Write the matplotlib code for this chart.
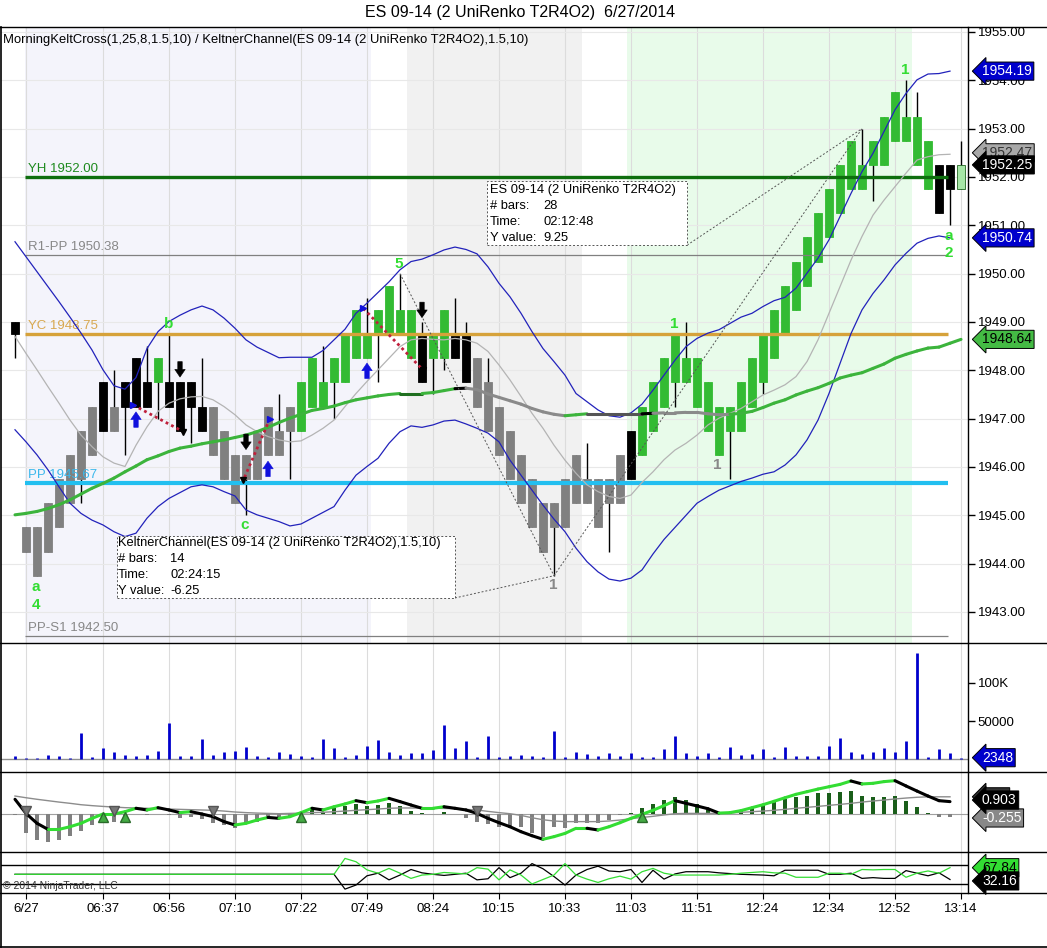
import matplotlib
matplotlib.use("Agg")
import matplotlib.pyplot as plt
import matplotlib.transforms as mtransforms
from matplotlib.collections import LineCollection
from matplotlib.patches import Rectangle
from matplotlib.lines import Line2D
from matplotlib.ticker import FixedLocator, FuncFormatter

plt.rcParams['font.family'] = ['Liberation Sans', 'DejaVu Sans']

# ---------------- data ----------------
tick_idx = [1, 8, 14, 20, 26, 32, 38, 44, 50, 56, 62, 68, 74, 80, 86]
tick_lab = ['6/27', '06:37', '06:56', '07:10', '07:22', '07:49', '08:24', '10:15',
            '10:33', '11:03', '11:51', '12:24', '12:34', '12:52', '13:14']

body_lo = [1948.75,1944.25,1943.75,1944.25,1944.75,1945.25,1945.75,1946.25,1946.75,1946.75,
           1947.25,1947.25,1947.25,1947.75,1947.25,1946.75,1947.25,1946.75,1946.25,1945.75,
           1945.25,1945.75,1945.75,1946.25,1946.25,1946.75,1946.75,1947.25,1947.25,1947.75,
           1947.75,1948.25,1948.25,1948.75,1948.75,1948.75,1948.25,1947.75,1948.25,1948.25,
           1948.25,1947.75,1947.25,1946.75,1946.25,1945.75,1945.25,1944.75,1944.25,1944.75,
           1944.75,1945.25,1945.25,1944.75,1945.25,1945.25,1945.75,1946.25,1946.75,1947.25,
           1947.75,1947.75,1947.25,1946.75,1946.25,1946.75,1946.75,1947.25,1947.75,1948.25,
           1948.75,1949.25,1949.75,1950.25,1950.75,1951.25,1951.75,1951.75,1952.25,1952.25,
           1952.75,1952.75,1952.25,1951.75,1951.25,1951.75,1951.75]
body_hi = [1949.00,1944.75,1944.75,1945.25,1945.75,1946.25,1946.75,1947.25,1947.75,1947.25,
           1947.75,1948.25,1947.75,1948.25,1947.75,1947.75,1947.75,1947.25,1947.25,1946.75,
           1946.25,1946.25,1946.75,1947.25,1946.75,1947.25,1947.75,1948.25,1947.75,1948.25,
           1948.75,1949.25,1948.75,1949.25,1949.75,1949.25,1949.25,1948.75,1948.75,1949.25,
           1948.75,1948.75,1948.25,1947.75,1947.25,1946.75,1946.25,1945.75,1945.25,1945.25,
           1945.75,1946.25,1945.75,1945.75,1945.75,1946.25,1946.75,1947.25,1947.75,1948.25,
           1948.75,1948.25,1948.25,1947.75,1947.25,1947.25,1947.75,1948.25,1948.75,1949.25,
           1949.75,1950.25,1950.75,1951.25,1951.75,1952.25,1952.75,1952.25,1952.75,1953.25,
           1953.75,1953.25,1953.25,1952.75,1952.25,1952.25,1952.25]
bar_low = [1948.25,1944.25,1943.75,1944.25,1944.75,1945.25,1945.25,1946.25,1946.75,1946.75,
           1946.25,1947.25,1947.25,1947.00,1947.25,1946.75,1946.50,1946.75,1946.25,1945.75,
           1945.25,1945.00,1945.75,1946.25,1946.25,1945.75,1946.75,1947.25,1947.25,1947.00,
           1947.75,1948.25,1948.25,1947.75,1948.75,1948.75,1948.25,1947.75,1947.50,1948.00,
           1948.25,1947.75,1947.25,1946.75,1946.25,1945.75,1945.25,1944.75,1944.25,1943.75,
           1944.75,1945.25,1945.25,1944.75,1944.25,1945.25,1945.75,1946.25,1946.75,1947.25,
           1947.25,1947.75,1947.25,1946.75,1946.25,1945.75,1946.75,1947.25,1947.50,1948.25,
           1948.75,1949.25,1949.75,1950.25,1950.75,1951.25,1951.75,1951.75,1951.50,1952.25,
           1952.75,1952.75,1952.25,1951.75,1951.25,1951.00,1951.75]
bar_high = [1949.00,1944.75,1944.75,1945.25,1945.75,1946.25,1946.75,1947.25,1947.75,1948.00,
            1947.75,1948.25,1948.50,1948.25,1948.75,1947.75,1947.75,1948.25,1947.25,1946.75,
            1946.25,1946.25,1946.75,1947.25,1947.50,1947.25,1947.75,1948.25,1948.50,1948.25,
            1948.75,1949.25,1949.50,1949.25,1949.75,1950.00,1949.25,1949.00,1948.75,1949.25,
            1949.50,1949.00,1948.25,1948.25,1947.25,1946.75,1946.25,1945.75,1945.25,1945.25,
            1945.75,1946.25,1946.50,1945.75,1945.75,1946.25,1946.75,1947.25,1947.75,1948.25,
            1948.75,1949.00,1948.25,1947.75,1947.25,1947.25,1947.75,1948.25,1948.75,1949.25,
            1949.75,1950.25,1950.75,1951.25,1951.75,1952.25,1952.75,1953.00,1952.75,1953.25,
            1953.75,1954.00,1953.75,1952.75,1952.25,1952.25,1952.75]
bar_kind = "kssssssskskkkgkkkkssssssssgggggggggggkggkksssssssssssssskgggggggggggggggggggggggggggkkl"

kc_upper = [1950.66,1950.35,1950.04,1949.73,1949.42,1949.10,1948.77,1948.42,1948.01,1947.68,
            1947.61,1947.85,1948.45,1948.80,1949.01,1949.14,1949.25,1949.33,1949.25,1949.08,
            1948.87,1948.63,1948.48,1948.37,1948.26,1948.27,1948.27,1948.27,1948.41,1948.63,
            1948.85,1949.18,1949.39,1949.61,1949.83,1950.08,1950.25,1950.30,1950.39,1950.49,
            1950.55,1950.50,1950.41,1950.14,1949.80,1949.52,1949.18,1948.80,1948.45,1948.18,
            1947.90,1947.52,1947.35,1947.18,1947.06,1947.03,1947.12,1947.30,1947.59,1947.90,
            1948.21,1948.49,1948.66,1948.77,1948.84,1948.97,1949.10,1949.18,1949.32,1949.44,
            1949.51,1949.70,1950.01,1950.32,1950.70,1951.18,1951.66,1952.11,1952.49,1952.94,
            1953.39,1953.73,1954.01,1954.13,1954.14,1954.19]
kc_mid = [1948.70,1948.35,1948.01,1947.66,1947.32,1946.97,1946.66,1946.42,1946.21,1946.08,
          1946.01,1946.45,1946.83,1947.15,1947.32,1947.41,1947.45,1947.46,1947.39,1947.25,
          1947.08,1946.87,1946.73,1946.63,1946.56,1946.52,1946.54,1946.66,1946.80,1946.97,
          1947.25,1947.52,1947.77,1948.01,1948.25,1948.49,1948.63,1948.66,1948.64,1948.63,
          1948.66,1948.63,1948.56,1948.39,1948.11,1947.80,1947.46,1947.11,1946.80,1946.45,
          1946.14,1945.87,1945.63,1945.49,1945.39,1945.35,1945.42,1945.68,1945.90,1946.15,
          1946.35,1946.49,1946.66,1946.87,1947.01,1947.11,1947.21,1947.35,1947.49,1947.59,
          1947.70,1947.87,1948.18,1948.63,1949.18,1949.73,1950.28,1950.77,1951.21,1951.52,
          1951.80,1952.08,1952.35,1952.42,1952.46,1952.47]
kc_lower = [1946.77,1946.52,1946.25,1945.94,1945.59,1945.25,1945.04,1944.90,1944.80,1944.66,
            1944.56,1944.63,1944.94,1945.18,1945.35,1945.47,1945.59,1945.63,1945.59,1945.49,
            1945.40,1945.11,1945.01,1944.94,1944.87,1944.78,1944.82,1944.94,1945.06,1945.18,
            1945.52,1945.83,1946.01,1946.18,1946.49,1946.73,1946.85,1946.82,1946.87,1946.95,
            1946.97,1946.89,1946.80,1946.70,1946.52,1946.14,1945.83,1945.52,1945.21,1944.92,
            1944.66,1944.32,1944.04,1943.83,1943.68,1943.64,1943.70,1943.87,1944.20,1944.50,
            1944.75,1945.00,1945.25,1945.39,1945.52,1945.61,1945.70,1945.77,1945.85,1945.90,
            1946.04,1946.25,1946.56,1946.97,1947.52,1948.14,1948.76,1949.25,1949.59,1949.87,
            1950.18,1950.42,1950.63,1950.73,1950.78,1950.74]
ema = [1945.01,1945.04,1945.08,1945.14,1945.22,1945.32,1945.44,1945.56,1945.66,1945.77,
       1945.90,1946.02,1946.15,1946.23,1946.32,1946.39,1946.43,1946.48,1946.52,1946.56,
       1946.61,1946.66,1946.73,1946.82,1946.92,1947.01,1947.09,1947.17,1947.21,1947.26,
       1947.33,1947.39,1947.43,1947.47,1947.50,1947.52,1947.52,1947.52,1947.54,1947.58,
       1947.62,1947.63,1947.60,1947.51,1947.44,1947.37,1947.30,1947.21,1947.14,1947.09,
       1947.06,1947.08,1947.10,1947.10,1947.10,1947.10,1947.10,1947.10,1947.11,1947.12,
       1947.12,1947.13,1947.13,1947.10,1947.08,1947.09,1947.11,1947.15,1947.23,1947.32,
       1947.39,1947.49,1947.57,1947.64,1947.73,1947.84,1947.90,1947.95,1948.04,1948.13,
       1948.25,1948.33,1948.40,1948.46,1948.48,1948.56,1948.64]
ema_seg = "gggggggggggggggggggggggggggggggggggGGgggksssssssssggdddddksssssssgggggggggggggggggggg"

pivot_names = ['YH 1952.00', 'R1-PP 1950.38', 'YC 1948.75', 'PP 1945.67', 'PP-S1 1942.50']
pivot_vals = [1952.00, 1950.38, 1948.75, 1945.67, 1942.50]

volume = [3900,1700,1700,6000,4800,1700,35000,3000,14300,9100,
          6000,3900,6000,10400,48000,3900,3900,26000,6000,9100,
          10400,15600,4800,3000,10000,7400,4800,3000,26000,14300,
          3000,6000,17700,24700,10000,6000,8200,8200,11700,44200,
          14300,23400,3000,30700,3000,3900,6000,3900,2600,36400,
          3000,10000,7400,4800,8700,3900,8700,2600,2600,13000,
          30700,8700,4300,8700,2600,15600,5200,6500,13000,3000,
          15600,3900,4800,4800,17000,28300,9100,7000,10000,14300,
          10000,23400,137800,2600,13000,8700,2348]

macd = [0.95,0.04,-0.60,-0.99,-0.99,-0.82,-0.60,-0.28,0.00,0.00,
        0.15,0.37,0.26,0.41,0.26,0.09,0.15,0.00,-0.17,-0.49,
        -0.71,-0.60,-0.39,-0.22,-0.28,-0.17,0.09,0.37,0.26,0.47,
        0.65,0.86,0.73,0.84,1.01,0.80,0.58,0.37,0.37,0.47,
        0.37,0.26,0.04,-0.28,-0.56,-0.82,-1.14,-1.40,-1.63,-1.46,
        -1.25,-0.92,-0.92,-1.03,-0.82,-0.56,-0.28,-0.02,0.24,0.54,
        0.86,0.69,0.52,0.34,0.06,0.09,0.22,0.41,0.60,0.82,
        1.05,1.27,1.44,1.61,1.76,1.91,2.13,1.94,1.98,2.09,
        2.15,1.81,1.48,1.16,0.86,0.80]
signal = [1.16,1.05,0.95,0.86,0.77,0.69,0.60,0.54,0.49,0.45,
          0.41,0.39,0.37,0.34,0.32,0.30,0.28,0.26,0.24,0.19,
          0.13,0.09,0.06,0.04,0.02,0.04,0.06,0.09,0.11,0.15,
          0.19,0.24,0.28,0.32,0.37,0.39,0.39,0.37,0.37,0.36,
          0.34,0.30,0.26,0.17,0.09,0.02,-0.09,-0.24,-0.37,-0.45,
          -0.49,-0.49,-0.49,-0.49,-0.45,-0.39,-0.30,-0.22,-0.15,-0.06,
          0.02,0.04,0.04,0.04,0.04,0.06,0.11,0.15,0.19,0.24,
          0.30,0.37,0.43,0.49,0.56,0.62,0.69,0.77,0.84,0.90,
          0.97,1.03,1.08,1.11,1.11,1.11]
hist = [-0.06,-1.25,-1.68,-1.78,-1.68,-1.42,-1.08,-0.71,-0.32,-0.49,
        -0.17,0.00,-0.06,0.00,-0.06,-0.28,-0.22,-0.34,-0.56,-0.71,
        -0.92,-0.60,-0.49,-0.28,-0.34,-0.17,-0.13,0.37,0.15,0.37,
        0.52,0.65,0.54,0.58,0.73,0.52,0.22,0.04,0.00,0.15,
        0.00,-0.24,-0.49,-0.67,-0.86,-0.88,-0.82,-1.25,-1.46,-0.86,
        -0.92,-0.56,-0.56,-0.60,-0.39,-0.09,0.09,0.37,0.65,0.90,
        1.12,0.90,0.62,0.26,0.04,0.09,0.26,0.41,0.62,0.80,
        0.95,1.08,1.18,1.33,1.38,1.44,1.51,1.18,1.12,1.12,
        1.18,0.86,0.47,0.09,-0.17,-0.17]
tri_down_idx = [1, 9, 18, 42]
tri_up_idx = [8, 10, 26, 57]

osc_green = [50,50,50,50,50,50,50,50,50,50,
             50,50,50,50,50,50,50,50,50,50,
             50,50,50,50,50,50,50,50,50,50,
             93,84,62,53,66,53,39,48,50,55,
             53,51,68,64,35,62,48,24,36,48,
             79,48,37,28,38,45,37,57,66,53,
             48,48,48,48,48,50,53,55,57,54,
             53,42,42,42,53,53,50,63,62,63,
             63,42,53,59,53,68]
osc_black = [50,50,50,50,50,50,50,50,50,50,
             50,50,50,50,50,50,50,50,50,50,
             50,50,50,50,50,50,50,50,50,50,
             10,21,46,53,35,48,63,54,50,47,
             50,53,35,38,68,41,53,79,65,44,
             21,48,63,72,59,57,63,28,61,37,
             51,57,57,57,54,52,50,49,48,46,
             61,61,61,61,50,50,53,39,41,39,
             39,60,53,46,54,36]

# annotations (bar index, price)
labels_green = [('a', 1.9, 1943.52), ('4', 1.9, 1943.14), ('b', 14.0, 1948.96), ('c', 20.9, 1944.80),
                ('5', 34.9, 1950.20), ('1', 59.9, 1948.96), ('1', 80.9, 1954.21),
                ('a', 84.9, 1950.78), ('2', 84.9, 1950.43)]
labels_gray = [('1', 48.9, 1943.56), ('1', 63.8, 1946.04)]
up_arrows = [(11, 1946.98), (23, 1945.96), (32, 1947.99)]
down_arrows = [(15, 1948.02), (21, 1946.52), (37, 1949.25)]
red_links = [((10.76, 1947.28), (15.3, 1946.73)), ((23.18, 1947.0), (20.76, 1945.73)),
             ((31.67, 1949.28), (37.12, 1948.0))]

# ---------------- figure ----------------
W, H = 1047, 948
fig = plt.figure(figsize=(W / 100, H / 100), dpi=100)
fig.patch.set_facecolor('white')
XL_PX, XR_PX = 1, 968


def px_axes(top, bottom):
    return fig.add_axes([XL_PX / W, 1 - bottom / H, (XR_PX - XL_PX) / W, (bottom - top) / H])


ax_p = px_axes(27, 643)
ax_v = px_axes(643, 772)
ax_o = px_axes(772, 852)
ax_r = px_axes(852, 893)
axes = [ax_p, ax_v, ax_o, ax_r]
xlim = ((XL_PX - 15) / 11.0, (XR_PX - 15) / 11.0)
for a in axes:
    a.set_xlim(*xlim)
    for s in ['left', 'top', 'bottom']:
        a.spines[s].set_visible(False)
    a.spines['right'].set_color('black')
    a.spines['right'].set_linewidth(1)
    a.set_xticks(tick_idx)
    a.tick_params(axis='x', length=0, labelbottom=False)
    a.grid(axis='x', color='#DCDCDC', lw=0.8)
    a.set_axisbelow(True)
    a.yaxis.tick_right()

ax_r.tick_params(axis='x', labelbottom=True, labelsize=9.5, length=4, width=0.8, direction='out', pad=3)
ax_r.set_xticklabels(tick_lab)

xs = list(range(len(body_lo)))


def flag(ax, y, s, fc, tc, z=10):
    tr = mtransforms.blended_transform_factory(ax.transAxes, ax.transData)
    ax.text(1 + 14 / 967, y, s, transform=tr, ha='left', va='center', fontsize=10, color=tc,
            zorder=z, clip_on=False,
            bbox=dict(boxstyle='larrow,pad=0.15', fc=fc, ec='black', lw=0.7))


# ---- price panel ----
ax_p.set_ylim(1942.358, 1955.103)
ax_p.set_yticks(range(1943, 1956))
ax_p.yaxis.set_major_formatter(FuncFormatter(lambda v, p: '%.2f' % v))
ax_p.tick_params(axis='y', direction='out', length=5, width=1, pad=2, labelsize=9.5)
ax_p.grid(axis='y', color='#E8E8E8', lw=0.8)

ax_p.axvspan(0.9, 32.4, color='#F4F4FB', zorder=0, lw=0)
ax_p.axvspan(35.6, 51.5, color='#F1F1F1', zorder=0, lw=0)
ax_p.axvspan(55.6, 81.5, color='#E8FBEA', zorder=0, lw=0)

kind_col = {'k': '#000000', 's': '#808080', 'g': '#33BB33', 'l': '#A6E6A6'}
ax_p.vlines(xs, bar_low, bar_high, color='black', lw=1, zorder=3)
for i in xs:
    ec = '#226622' if bar_kind[i] == 'l' else kind_col[bar_kind[i]]
    ax_p.bar(i, body_hi[i] - body_lo[i], bottom=body_lo[i], width=0.64,
             color=kind_col[bar_kind[i]], edgecolor=ec, lw=0.6, zorder=3.2)

pivot_cols = ['#0E6E0E', '#808080', '#D6A23A', '#22BFF0', '#808080']
pivot_lw = [2.4, 0.9, 2.4, 3.0, 0.9]
pivot_txt = ['#1E8A1E', '#888888', '#D8A850', '#3CB8EC', '#888888']
lab_tr = mtransforms.offset_copy(ax_p.transData, fig=fig, x=0, y=2, units='dots')
for name, v, c, lw, tc in zip(pivot_names, pivot_vals, pivot_cols, pivot_lw, pivot_txt):
    ax_p.hlines(v, 0.9, 84.8, color=c, lw=lw, zorder=4)
    ax_p.text(1.2, v, name, color=tc, fontsize=9.5, va='bottom', ha='left', transform=lab_tr, zorder=4)

kx = list(range(len(kc_upper)))
ax_p.plot(kx, kc_upper, color='#2222BB', lw=0.9, zorder=4.2)
ax_p.plot(kx, kc_lower, color='#2222BB', lw=0.9, zorder=4.2)
ax_p.plot(kx, kc_mid, color='#B4B4B4', lw=0.9, zorder=4.1)

seg_col = {'g': '#3CB43C', 'G': '#1F6F1F', 'k': '#000000', 's': '#8A8A8A', 'd': '#555555'}
segs = [[(i, ema[i]), (i + 1, ema[i + 1])] for i in range(len(ema) - 1)]
ax_p.add_collection(LineCollection(segs, colors=[seg_col[c] for c in ema_seg], linewidths=2.2,
                                   zorder=4.3, capstyle='round'))

# dashed measurement lines
dash = dict(color='#555555', lw=0.7, ls=(0, (2, 2)), zorder=4.5)
ax_p.plot([35, 49], [1950.0, 1943.75], **dash)
ax_p.plot([49, 77], [1943.75, 1953.0], **dash)
ax_p.plot([40.0, 49], [1943.29, 1943.75], **dash)
ax_p.plot([61.1, 77], [1950.59, 1953.0], **dash)

# red dotted links + markers
for (p0, p1) in red_links:
    ax_p.plot([p0[0], p1[0]], [p0[1], p1[1]], color='#C0203C', lw=2, ls=(0, (1, 1.2)), zorder=5)
    ax_p.plot(p0[0], p0[1], marker='>', color='#1010DD', ms=5, zorder=5.1)
    ax_p.plot(p1[0], p1[1], marker='v', color='black', ms=4, zorder=5.1)

for (xa, ya) in up_arrows:
    ax_p.annotate('', xy=(xa, ya + 0.16), xytext=(xa, ya - 0.16), zorder=6,
                  arrowprops=dict(arrowstyle='simple,head_length=0.55,head_width=0.75,tail_width=0.32',
                                  fc='#1010DD', ec='#1010DD', lw=0.4, shrinkA=0, shrinkB=0))
for (xa, ya) in down_arrows:
    ax_p.annotate('', xy=(xa, ya - 0.16), xytext=(xa, ya + 0.16), zorder=6,
                  arrowprops=dict(arrowstyle='simple,head_length=0.55,head_width=0.75,tail_width=0.32',
                                  fc='black', ec='black', lw=0.4, shrinkA=0, shrinkB=0))

for s, xa, ya in labels_green:
    ax_p.text(xa, ya, s, color='#33DD33', fontsize=11, fontweight='bold', ha='center', va='center', zorder=6)
for s, xa, ya in labels_gray:
    ax_p.text(xa, ya, s, color='#888888', fontsize=11, fontweight='bold', ha='center', va='center', zorder=6)

# tooltip boxes
ax_p.add_patch(Rectangle((9.27, 1943.29), 40.0 - 9.27, 1944.57 - 1943.29, fc='white', ec='#555555',
                         lw=0.7, ls=(0, (2, 2)), zorder=7))
box1 = [('KeltnerChannel(ES 09-14 (2 UniRenko T2R4O2),1.5,10)', ''), ('# bars:', '14'),
        ('Time:', '02:24:15'), ('Y value:', '-6.25')]
for k, (t, v) in enumerate(box1):
    yy = 1944.43 - k * 0.332
    ax_p.text(9.36, yy, t, fontsize=9.3, va='center', ha='left', zorder=8)
    if v:
        ax_p.text(14.1, yy, v, fontsize=9.3, va='center', ha='left', zorder=8)
ax_p.add_patch(Rectangle((42.9, 1950.59), 61.1 - 42.9, 1951.92 - 1950.59, fc='white', ec='#555555',
                         lw=0.7, ls=(0, (2, 2)), zorder=7))
box2 = [('ES 09-14 (2 UniRenko T2R4O2)', ''), ('# bars:', '28'), ('Time:', '02:12:48'), ('Y value:', '9.25')]
for k, (t, v) in enumerate(box2):
    yy = 1951.73 - k * 0.332
    ax_p.text(43.15, yy, t, fontsize=9.3, va='center', ha='left', zorder=8)
    if v:
        ax_p.text(48.0, yy, v, fontsize=9.3, va='center', ha='left', zorder=8)

flag(ax_p, kc_upper[-1], '%.2f' % kc_upper[-1], '#0000CC', 'white')
flag(ax_p, kc_mid[-1] + 0.03, '%.2f' % kc_mid[-1], '#A8A8A8', '#333333', z=10)
flag(ax_p, body_hi[-1], '%.2f' % body_hi[-1], '#000000', 'white', z=11)
flag(ax_p, kc_lower[-1], '%.2f' % kc_lower[-1], '#0000CC', 'white')
flag(ax_p, ema[-1], '%.2f' % ema[-1], '#44BB44', 'black')

# ---- volume panel ----
ax_v.set_ylim(-16234, 151300)
ax_v.vlines(xs, 0, volume, color='#0000CC', lw=2, zorder=3)
ax_v.axhline(0, color='#909090', lw=1, zorder=2)
ax_v.yaxis.set_major_locator(FixedLocator([50000, 100000]))
ax_v.yaxis.set_major_formatter(FuncFormatter(lambda v, p: '100K' if v >= 100000 else '%d' % v))
ax_v.tick_params(axis='y', direction='out', length=5, width=1, pad=2, labelsize=9.5)
flag(ax_v, volume[-1], '%d' % volume[-1], '#0000CC', 'white')

# ---- oscillator panel ----
ax_o.set_ylim(-2.45, 2.71)
ax_o.tick_params(axis='y', length=0, labelright=False, labelleft=False)
ax_o.axhline(0, color='#A0A0A0', lw=0.8, zorder=1)
ox = list(range(len(macd)))
ax_o.bar(ox, hist, width=0.3, color=['#1A5E1A' if h > 0 else '#808080' for h in hist], zorder=2)
ax_o.plot(ox, signal, color='#8C8C8C', lw=1, zorder=3)
msegs = [[(i, macd[i]), (i + 1, macd[i + 1])] for i in range(len(macd) - 1)]
mcols = ['#33DD33' if macd[i + 1] >= macd[i] else '#000000' for i in range(len(macd) - 1)]
ax_o.add_collection(LineCollection(msegs, colors=mcols, linewidths=2.2, zorder=4, capstyle='round'))
ax_o.plot(tri_down_idx, [0.21] * len(tri_down_idx), 'v', color='#777777', mec='#555555', ms=7, zorder=5)
ax_o.plot(tri_up_idx, [-0.17] * len(tri_up_idx), '^', color='#44AA44', mec='#2a6a2a', ms=7, zorder=5)
flag(ax_o, signal[-1], '%.2f' % signal[-1], '#333333', '#777777', z=9)
flag(ax_o, -0.255, '-0.255', '#888888', 'white', z=10)
flag(ax_o, 0.903, '0.903', '#000000', 'white', z=11)

# ---- bottom panel ----
ax_r.set_ylim(-0.5, 110.3)
ax_r.tick_params(axis='y', length=0, labelright=False, labelleft=False)
ax_r.axhline(75, color='black', lw=1, zorder=1)
ax_r.axhline(25, color='black', lw=1, zorder=1)
rx = list(range(len(osc_green)))
ax_r.plot(rx, osc_black, color='black', lw=0.9, zorder=3)
ax_r.plot(rx, osc_green, color='#33DD33', lw=0.9, zorder=3.1)
flag(ax_r, 67.84, '67.84', '#33DD33', 'black')
flag(ax_r, 32.16, '32.16', '#000000', 'white')

# ---- frame & texts ----
for yp in [27, 643, 772, 852, 893]:
    fig.add_artist(Line2D([0, 1], [1 - yp / H] * 2, color='black', lw=1))
fig.add_artist(Line2D([0.6 / W] * 2, [1 - 27 / H, 1 - 946.5 / H], color='black', lw=1.2))
fig.add_artist(Line2D([0, 1], [1 - 946.5 / H] * 2, color='black', lw=1.2))

fig.text(0.497, 1 - 13 / H, 'ES 09-14 (2 UniRenko T2R4O2)  6/27/2014', ha='center', va='center', fontsize=11.5)
fig.text(3 / W, 1 - 40 / H, 'MorningKeltCross(1,25,8,1.5,10) / KeltnerChannel(ES 09-14 (2 UniRenko T2R4O2),1.5,10)',
         ha='left', va='center', fontsize=9.4)
fig.text(3 / W, 1 - 886 / H, '\u00a9 2014 NinjaTrader, LLC', ha='left', va='center', fontsize=7.5, color='#333333',
         zorder=20)

fig.savefig('out.png', dpi=100)
